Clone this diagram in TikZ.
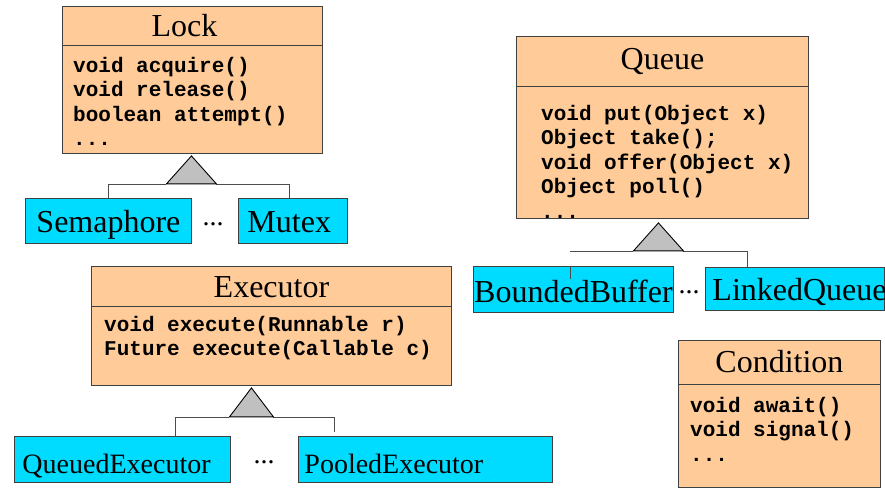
\documentclass[tikz,border=0pt]{standalone}
\usepackage{fontspec}
\setmainfont{Liberation Serif}
\setmonofont{Liberation Mono}
\definecolor{classorange}{RGB}{255,204,153}
\definecolor{subcyan}{RGB}{0,220,255}
\definecolor{trigray}{RGB}{192,192,192}
\usetikzlibrary{positioning,calc}

\tikzset{
  classbox/.style={draw=black!75, fill=classorange, line width=0.9pt, anchor=north west, inner sep=0pt},
  subbox/.style={draw=black!75, fill=subcyan, line width=0.9pt, anchor=north west, minimum height=45pt,
    inner xsep=0pt, inner ysep=0pt, text height=34pt, text depth=11pt, font=\fontsize{32}{32}\selectfont},
  title/.style={font=\fontsize{32}{32}\selectfont, inner sep=0pt},
  meth/.style={font=\ttfamily\bfseries\fontsize{21}{24.5}\selectfont, align=left, anchor=north west, inner sep=0pt},
  link/.style={black!70, line width=0.8pt},
  tri/.style={draw=black, fill=trigray, line width=0.9pt},
  dots/.style={font=\fontsize{28}{28}\selectfont, inner sep=0pt}
}

\begin{document}
\begin{tikzpicture}[x=1pt, y=-1pt]
    \useasboundingbox (0,0) rectangle (885,488);

    % Lock
    \node[classbox, minimum width=260pt, minimum height=147pt] (lock) at (62,6) {};
    \draw[black!75, line width=0.9pt] ([yshift=-39pt]lock.north west) -- ([yshift=-39pt]lock.north east);
    \node[title] (lockT) at ([xshift=-8pt,yshift=-20pt]lock.north) {Lock};
    \node[meth] (lockM) at ([xshift=11pt,yshift=-51pt]lock.north west)
        {void acquire()\\void release()\\boolean attempt()\\...};
    \node[subbox, minimum width=166pt] (sema) at (25,198) {Semaphore};
    \node[subbox, minimum width=109pt, text width=91pt, inner xsep=9pt, align=left] (mutex) at (238,198) {Mutex};
    \node[dots] (lockD) at (213,224) {...};
    \coordinate (lockTip) at ([xshift=-1pt,yshift=-2pt]lock.south);
    \path (lockTip) ++(-25,28) coordinate (lockL) ++(50,0) coordinate (lockR);
    \draw[link] (sema.north) |- (lockL);
    \draw[link] (lockR) -| ([xshift=-4pt]mutex.north);
    \draw[tri] (lockTip) -- (lockL) -- (lockR) -- cycle;

    % Queue
    \node[classbox, minimum width=292pt, minimum height=182pt] (queue) at (516,36) {};
    \draw[black!75, line width=0.9pt] ([yshift=-50pt]queue.north west) -- ([yshift=-50pt]queue.north east);
    \node[title] (queueT) at ([yshift=-25pt]queue.north) {Queue};
    \node[meth] (queueM) at ([xshift=25pt,yshift=-69pt]queue.north west)
        {void put(Object x)\\Object take();\\void offer(Object x)\\Object poll()\\...};
    \node[subbox, minimum width=200pt, minimum height=46pt, text height=36pt, text depth=10pt] (bb) at (473,266) {BoundedBuffer};
    \node[subbox, minimum width=179pt, minimum height=43pt, text height=33pt, text depth=10pt,
        text width=165pt, inner xsep=7pt, align=left] (lq) at (705,267) {LinkedQueue};
    \node[dots] (queueD) at (689,292) {...};
    \coordinate (queueTip) at ([xshift=-4pt,yshift=-4pt]queue.south);
    \path (queueTip) ++(-25,28) coordinate (queueL) ++(50,0) coordinate (queueR);
    \draw[link] ([xshift=-3pt]bb.north |- queueL) -- (queueL);
    \draw[link] ([xshift=-3pt]bb.north) -- ++(0,13);
    \draw[link] (queueR) -| ([xshift=42pt]lq.north west);
    \draw[tri] (queueTip) -- (queueL) -- (queueR) -- cycle;

    % Executor
    \node[classbox, minimum width=360pt, minimum height=119pt] (exec) at (91,266) {};
    \draw[black!75, line width=0.9pt] ([yshift=-40pt]exec.north west) -- ([yshift=-40pt]exec.north east);
    \node[title] (execT) at ([yshift=-21pt]exec.north) {Executor};
    \node[meth] (execM) at ([xshift=13pt,yshift=-50pt]exec.north west)
        {void execute(Runnable r)\\Future execute(Callable c)};
    \node[subbox, minimum width=216pt, minimum height=46pt, text height=37pt, text depth=9pt,
        text width=200pt, inner xsep=8pt, align=left, font=\fontsize{28}{28}\selectfont] (qe) at (14,436) {QueuedExecutor};
    \node[subbox, minimum width=254pt, minimum height=46pt, text height=37pt, text depth=9pt,
        text width=242pt, inner xsep=6pt, align=left, font=\fontsize{28}{28}\selectfont] (pe) at (298,436) {PooledExecutor};
    \node[dots] (execD) at (264,462) {...};
    \coordinate (execTip) at ([xshift=-20pt,yshift=-2pt]exec.south);
    \path (execTip) ++(-22,29) coordinate (execL) ++(44,0) coordinate (execR);
    \draw[link] ([xshift=161pt]qe.north west) |- (execL);
    \draw[link] (execR) -| ([xshift=36pt,yshift=4pt]pe.north west);
    \draw[tri] (execTip) -- (execL) -- (execR) -- cycle;

    % Condition
    \node[classbox, minimum width=202pt, minimum height=147pt] (cond) at (678,340) {};
    \draw[black!75, line width=0.9pt] ([yshift=-44pt]cond.north west) -- ([yshift=-44pt]cond.north east);
    \node[title] (condT) at ([yshift=-22pt]cond.north) {Condition};
    \node[meth] (condM) at ([xshift=12pt,yshift=-57pt]cond.north west)
        {void await()\\void signal()\\...};
\end{tikzpicture}
\end{document}
